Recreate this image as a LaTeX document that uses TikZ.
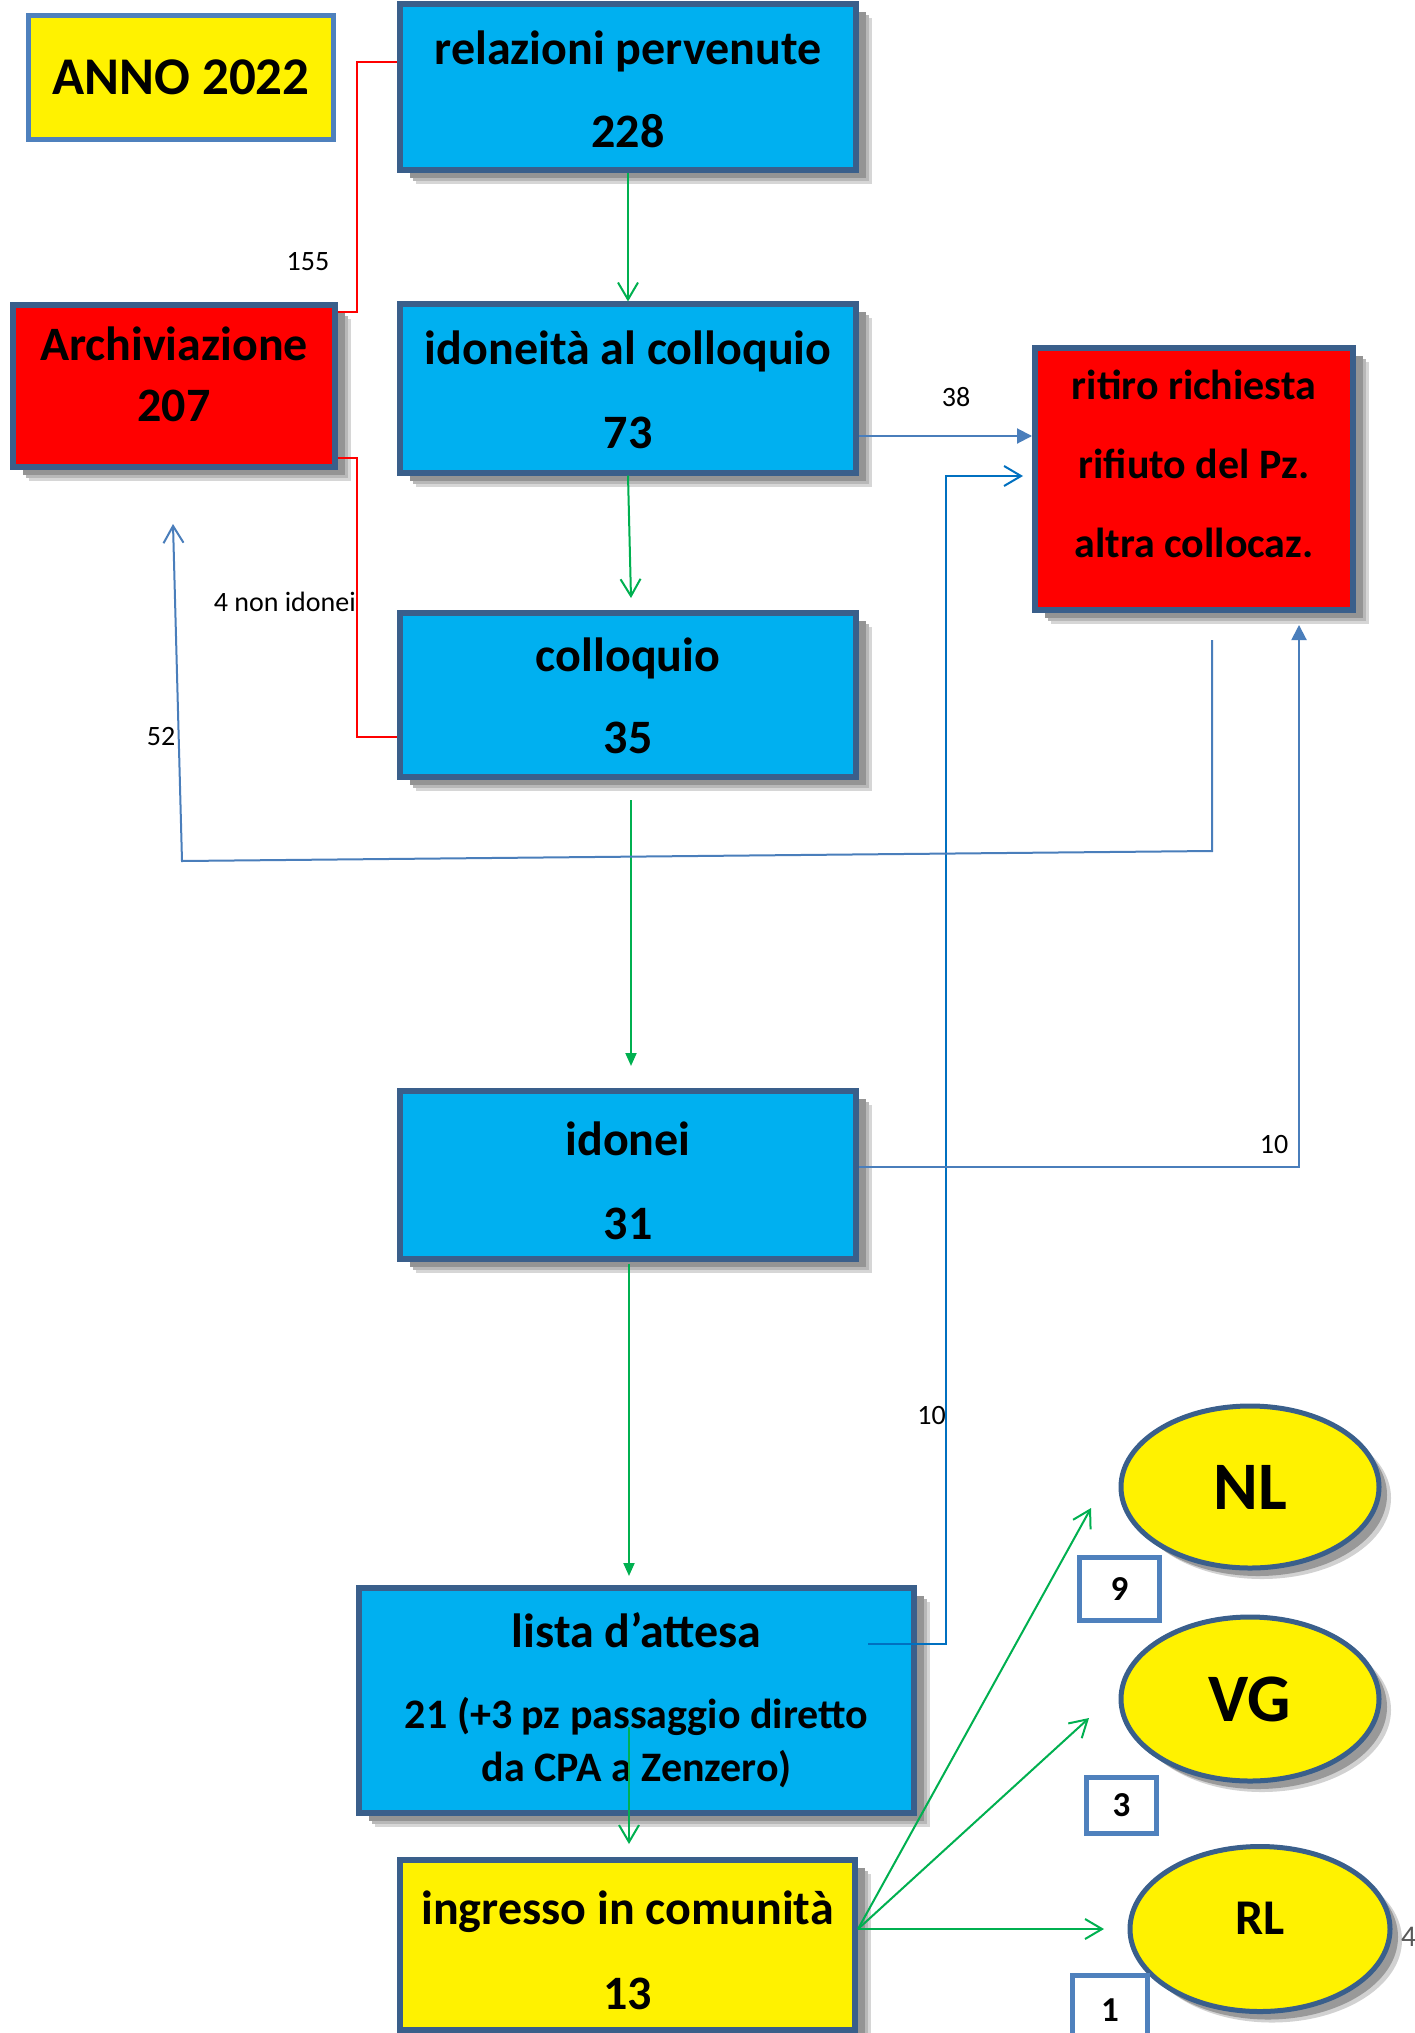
\documentclass[tikz,border=0pt]{standalone}
\usepackage{fontspec}
\setmainfont{Carlito}
\usetikzlibrary{arrows.meta,shapes.geometric,shadows}
\definecolor{cyanbox}{HTML}{00B0F0}
\definecolor{boxborder}{HTML}{3A5F8B}
\definecolor{lightborder}{HTML}{4F81BD}
\definecolor{connblue}{HTML}{4A7EBB}
\definecolor{brightblue}{HTML}{0070C0}
\definecolor{conngreen}{HTML}{00B050}
\definecolor{labelgray}{HTML}{595959}
\newcommand{\boxtext}[4]{\raisebox{#1}[\height][\depth]{\fontsize{#2}{#3}\selectfont\bfseries\begin{tabular}{@{}c@{}}#4\end{tabular}}}
\tikzset{
  softshadow/.style={
    general shadow={shadow xshift=16pt, shadow yshift=-14pt, fill=black!16},
    general shadow={shadow xshift=13pt, shadow yshift=-11pt, fill=black!28},
    general shadow={shadow xshift=10pt, shadow yshift=-8pt, fill=black!42}},
  flowbox/.style={rectangle, draw=boxborder, line width=6pt, fill=cyanbox, inner sep=0pt, softshadow},
  redbox/.style={flowbox, fill=red},
  yelbox/.style={flowbox, fill=yellow},
  annobox/.style={rectangle, draw=lightborder, line width=5pt, fill=yellow, inner sep=0pt},
  ellnode/.style={ellipse, draw=boxborder, line width=5pt, fill=yellow, inner sep=0pt,
    general shadow={shadow xshift=12pt, shadow yshift=-11pt, fill=black!18},
    general shadow={shadow xshift=8pt, shadow yshift=-8pt, fill=black!40}},
  countbox/.style={rectangle, draw=lightborder, line width=5pt, fill=white, inner sep=0pt, font=\fontsize{35}{42}\selectfont\bfseries},
  lbl/.style={inner sep=0pt, font=\fontsize{28}{34}\selectfont},
  redline/.style={draw=red, line width=2pt},
  greenline/.style={draw=conngreen, line width=2pt},
  blueline/.style={draw=connblue, line width=2pt},
  brightline/.style={draw=brightblue, line width=2pt},
  openarrow/.style={-{Straight Barb[length=17pt,width=20pt]}},
  smallfill/.style={-{Triangle[length=13pt,width=11pt]}},
  bigfill/.style={-{Triangle[length=15pt,width=15pt]}}
}
\begin{document}
\begin{tikzpicture}[x=1pt,y=-1pt]
\useasboundingbox (0,0) rectangle (1415,2033);
\path[fill=white] (0,0) rectangle (1415,2033);

% boxes
\node[annobox, minimum width=305pt, minimum height=124pt] (anno) at (181,77.5) {\fontsize{53}{62}\selectfont\bfseries ANNO 2022};
\node[flowbox, minimum width=456pt, minimum height=155pt] (rel) at (628,87.5) {\boxtext{-2pt}{48}{83}{relazioni pervenute\\228}};
\node[redbox, minimum width=322pt, minimum height=162pt] (arch) at (174,386) {\boxtext{7pt}{48}{61}{Archiviazione\\207}};
\node[flowbox, minimum width=456pt, minimum height=163pt] (ido) at (628,388.5) {\boxtext{-1pt}{48}{84}{idoneità al colloquio\\73}};
\node[redbox, minimum width=318pt, minimum height=262pt] (rit) at (1194,479) {\boxtext{16pt}{42}{79}{ritiro richiesta\\rifiuto del Pz.\\altra collocaz.}};
\node[flowbox, minimum width=456pt, minimum height=164pt] (col) at (628,695) {\boxtext{-1pt}{48}{82}{colloquio\\35}};
\node[flowbox, minimum width=456pt, minimum height=144pt] (idn) at (628,1175) {\boxtext{-6pt}{48}{84}{idonei\\31}};
\node[flowbox, minimum width=555pt, minimum height=225pt] (lis) at (636.5,1700.5) {\boxtext{-3pt}{42}{53}{{\fontsize{48}{53}\selectfont lista d’attesa}\\[28pt]21 (+3 pz passaggio diretto\\da CPA a Zenzero)}};
\node[yelbox, minimum width=455pt, minimum height=147pt] (ing) at (627.5,1944.5) {\boxtext{-5pt}{48}{85}{ingresso in comunità\\13}};

% ellipses
\node[ellnode, minimum width=258pt, minimum height=162pt] (nl) at (1250,1487) {\fontsize{68}{80}\selectfont\bfseries NL};
\node[ellnode, minimum width=258pt, minimum height=164pt] (vg) at (1250,1699) {\fontsize{68}{80}\selectfont\bfseries VG};
\node[ellnode, minimum width=260pt, minimum height=165pt] (rl) at (1260,1929) {\raisebox{11pt}[\height][\depth]{\fontsize{50}{60}\selectfont\bfseries RL}};

% count boxes
\node[countbox, minimum width=80pt, minimum height=63pt] (b9) at (1119.5,1589) {9\hspace{23pt}};
\node[countbox, minimum width=70pt, minimum height=56pt] (b3) at (1121.5,1805.5) {3};
\node[countbox, minimum width=75pt, minimum height=70pt] (b1) at (1110,2010) {1};

% labels
\node[lbl] (l155) at (308,262) {155};
\node[lbl, anchor=east] (lnon) at (356,602) {4 non idonei};
\node[lbl] (l52) at (161,737) {52};
\node[lbl] (l38) at (956,397) {38};
\node[lbl] (l10a) at (1274,1144) {10};
\node[lbl, anchor=east] (l10b) at (946,1415) {10};
\node[lbl, anchor=west, text=labelgray, font=\fontsize{30}{36}\selectfont] (l4) at (1401,1937) {4};

% coordinates
\coordinate (rb1) at (357,62);
\coordinate (rb2) at (357,312);
\coordinate (rb3) at (357,458);
\coordinate (rb4) at (357,737);
\coordinate (g1) at (631,598);
\coordinate (g2) at (631,800);
\coordinate (g3) at (631,1066);
\coordinate (g4) at (629,1264);
\coordinate (g5) at (629,1576);
\coordinate (g6) at (629,1727);
\coordinate (g7) at (629,1844);
\coordinate (gy) at (0,1929);
\coordinate (tnl) at (1091,1508);
\coordinate (tvg) at (1089,1718);
\coordinate (trl) at (1104,1929);
\coordinate (b38) at (0,436);
\coordinate (lstart) at (868,1644);
\coordinate (lb2) at (946,476);
\coordinate (lend) at (1023,476);
\coordinate (rs) at (1212,640);
\coordinate (rb) at (1212,851);
\coordinate (lb) at (182,861);
\coordinate (atip) at (173,524);
\coordinate (b10) at (0,1167);
\coordinate (t10) at (1299,625);

% red connectors
\draw[redline] (rel.west |- rb1) -- (rb1) -- (rb2) -- (arch.east |- rb2);
\draw[redline] (arch.east |- rb3) -- (rb3) -- (rb4) -- (col.west |- rb4);

% green connectors
\draw[greenline, openarrow] (rel.south) -- (ido.north);
\draw[greenline, openarrow] (ido.south) -- (g1);
\draw[greenline, smallfill] (g2) -- (g3);
\draw[greenline, smallfill] (g4) -- (g5);
\draw[greenline, openarrow] (g6) -- (g7);
\draw[greenline, openarrow] (ing.east |- gy) -- (tnl);
\draw[greenline, openarrow] (ing.east |- gy) -- (tvg);
\draw[greenline, openarrow] (ing.east |- gy) -- (trl);

% blue connectors
\draw[blueline, bigfill] (ido.east |- b38) -- (rit.west |- b38);
\draw[brightline, openarrow] (lstart) -| (lb2) -- (lend);
\draw[blueline, openarrow] (rs) -- (rb) -- (lb) -- (atip);
\draw[blueline, bigfill] (idn.east |- b10) -| (t10);
\end{tikzpicture}
\end{document}
